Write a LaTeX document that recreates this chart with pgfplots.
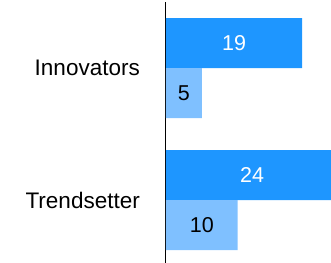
\documentclass[border=0pt]{standalone}
\usepackage{fontspec}
\setmainfont{Liberation Sans}
\usepackage{pgfplots}
\pgfplotsset{compat=1.18}
\definecolor{darkb}{RGB}{30,150,255}
\definecolor{lightb}{RGB}{127,192,255}
\begin{document}
\begin{tikzpicture}
\begin{axis}[
  scale only axis,
  width=165pt, height=261pt,
  xmin=0, xmax=23.01,
  ymin=-0.477, ymax=1.5,
  axis x line=none,
  axis y line=left,
  y axis line style={-, black, line width=1pt},
  ytick={0,1},
  yticklabels={Trendsetter,Innovators},
  major tick length=0pt,
  yticklabel style={font=\fontsize{22.5}{26}\selectfont, inner sep=0pt, xshift=-26pt},
  xbar, bar width=50pt,
  clip=true,
]
\addplot[xbar, bar shift=25pt, fill=darkb, draw=none] coordinates {(19,1) (24,0)};
\addplot[xbar, bar shift=-25pt, fill=lightb, draw=none] coordinates {(5,1) (10,0)};
\end{axis}
\begin{axis}[
  scale only axis,
  width=165pt, height=261pt,
  xmin=0, xmax=23.01,
  ymin=-0.477, ymax=1.5,
  hide axis, clip=false,
]
\addplot[draw=none, mark=none, nodes near coords, point meta=explicit symbolic,
  every node near coord/.style={anchor=center, yshift=25pt, text=white, font=\fontsize{21.5}{25}\selectfont}]
  coordinates {(9.5,1) [19] (12,0) [24]};
\addplot[draw=none, mark=none, nodes near coords, point meta=explicit symbolic,
  every node near coord/.style={anchor=center, yshift=-25pt, text=black, font=\fontsize{21.5}{25}\selectfont}]
  coordinates {(2.5,1) [5] (5,0) [10]};
\end{axis}
\pgfresetboundingbox
\path (current axis.south west) ++(-166pt,0pt) coordinate (bl);
\path (current axis.north east) ++(0pt,2pt) coordinate (tr);
\path[use as bounding box] (bl) rectangle (tr);
\end{tikzpicture}
\end{document}
